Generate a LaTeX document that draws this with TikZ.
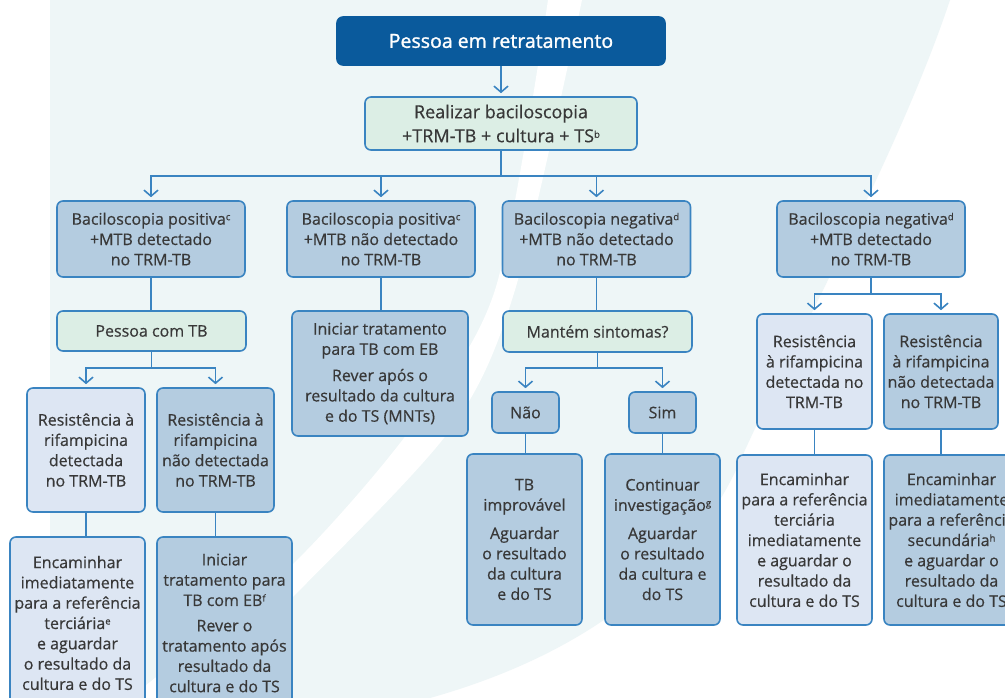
\documentclass[tikz,border=0pt]{standalone}
\usepackage{fontspec}
\setmainfont{Open Sans}
\newfontfamily\boxfont{Open Sans}[FakeBold=0.5]
\newfontfamily\topfont{Open Sans}[FakeBold=1.3]
\usetikzlibrary{arrows.meta}
\definecolor{lineblue}{HTML}{3A84C1}
\definecolor{darkblue}{HTML}{0A5A9C}
\definecolor{greenfill}{HTML}{DCEEE5}
\definecolor{lightfill}{HTML}{DDE6F3}
\definecolor{medfill}{HTML}{B4CCE0}
\definecolor{textgrey}{HTML}{383838}
\definecolor{bgtint}{HTML}{EEF6F7}
\newcommand{\sups}[1]{\raisebox{4.5pt}{\fontsize{9.5}{9.5}\selectfont #1}}
\tikzset{
  conn/.style={draw=lineblue, line width=1.6pt},
  arr/.style={conn, -{Straight Barb[length=6pt,width=14pt]}, shorten >=3pt},
  box/.style={draw=lineblue, line width=1.6pt, rounded corners=6pt, inner sep=0pt,
    align=center, text=textgrey, font=\boxfont\fontsize{16}{20.3}\selectfont},
  greenbox/.style={box, fill=greenfill},
  lightbox/.style={box, fill=lightfill},
  medbox/.style={box, fill=medfill},
  topbox/.style={box, draw=darkblue, fill=darkblue, text=white, font=\topfont\fontsize{19.5}{24}\selectfont},
}
\begin{document}
\begin{tikzpicture}[x=1pt,y=-1pt]
\useasboundingbox (0,0) rectangle (1005,698);
\clip (0,0) rectangle (1005,698);
% background
\fill[white] (0,0) rectangle (1005,698);
\fill[bgtint] (50,0) -- (950,0) .. controls (900,150) and (800,330) .. (745,450)
  .. controls (700,560) and (600,650) .. (430,698) -- (50,698) -- cycle;
\fill[white] plot[smooth] coordinates {(548,0) (495,290) (410,430) (292,565) (150,682) (125,698)}
  -- plot[smooth] coordinates {(190,698) (292,598) (450,430) (515,290) (582,0)} -- cycle;

% nodes
\node[topbox, minimum width=328pt, minimum height=48pt] (top) at (501,41) {Pessoa em retratamento};
\node[greenbox, minimum width=272pt, minimum height=53pt, font=\boxfont\fontsize{18}{24}\selectfont] (r2) at (501,123.5)
  {Realizar baciloscopia\\+TRM-TB + cultura + TS\sups{b}};

\node[medbox, minimum width=188pt, minimum height=76pt] (A) at (151,239)
  {Baciloscopia positiva\sups{c}\\+MTB detectado\\no TRM-TB};
\node[medbox, minimum width=188pt, minimum height=76pt] (B) at (381,239)
  {Baciloscopia positiva\sups{c}\\+MTB não detectado\\no TRM-TB};
\node[medbox, minimum width=188pt, minimum height=76pt] (C) at (596.5,239)
  {Baciloscopia negativa\sups{d}\\+MTB não detectado\\no TRM-TB};
\node[medbox, minimum width=188pt, minimum height=76pt] (D) at (871,239)
  {Baciloscopia negativa\sups{d}\\+MTB detectado\\no TRM-TB};

% column A
\node[greenbox, minimum width=189pt, minimum height=40pt] (ptb) at (151.5,331) {Pessoa com TB};
\node[lightbox, minimum width=118pt, minimum height=124pt] (rl1) at (86,450)
  {Resistência à\\rifampicina\\detectada\\no TRM-TB};
\node[medbox, minimum width=117pt, minimum height=124pt] (rl2) at (215.5,450)
  {Resistência à\\rifampicina\\não detectada\\no TRM-TB};
\node[lightbox, minimum width=135pt, minimum height=172pt] (el1) at (77.5,623)
  {Encaminhar\\imediatamente\\para a referência\\terciária\sups{e}\\e aguardar\\o resultado da\\cultura e do TS};
\node[medbox, minimum width=135pt, minimum height=172pt] (el2) at (224.5,623)
  {Iniciar\\tratamento para\\TB com EB\sups{f}\\[5pt]Rever o\\tratamento após\\resultado da\\cultura e do TS};

% column B
\node[medbox, minimum width=176pt, minimum height=125pt] (b2) at (380,373.5)
  {Iniciar tratamento\\para TB com EB\\[6pt]Rever após o\\resultado da cultura\\e do TS (MNTs)};

% column C
\node[greenbox, minimum width=189pt, minimum height=41pt] (ms) at (597.5,331.5) {Mantém sintomas?};
\node[medbox, minimum width=67pt, minimum height=41pt] (nao) at (525.5,412.5) {Não};
\node[medbox, minimum width=67pt, minimum height=41pt] (sim) at (662.5,412.5) {Sim};
\node[medbox, minimum width=115pt, minimum height=171pt] (tbi) at (524.5,539.5)
  {TB\\improvável\\[8pt]Aguardar\\o resultado\\da cultura\\e do TS};
\node[medbox, minimum width=115pt, minimum height=171pt] (cont) at (662.5,539.5)
  {Continuar\\investigação\sups{g}\\[8pt]Aguardar\\o resultado\\da cultura e\\do TS};

% column D
\node[lightbox, minimum width=115pt, minimum height=115pt] (rr1) at (814.5,371.5)
  {Resistência\\à rifampicina\\detectada no\\TRM-TB};
\node[medbox, minimum width=114pt, minimum height=115pt] (rr2) at (941,371.5)
  {Resistência\\à rifampicina\\não detectada\\no TRM-TB};
\node[lightbox, minimum width=135pt, minimum height=170pt] (er1) at (804.5,540)
  {Encaminhar\\para a referência\\terciária\\imediatamente\\e aguardar o\\resultado da\\cultura e do TS};
\node[medbox, minimum width=135pt, minimum height=170pt] (er2) at (951.5,540)
  {Encaminhar\\imediatamente\\para a referência\\secundária\sups{h}\\e aguardar o\\resultado da\\cultura e do TS};

% connectors
\draw[arr] (top.south) -- (r2.north);
\draw[arr] (r2.south) -- ++(0,25) -| (A.north);
\draw[arr] (r2.south) -- ++(0,25) -| (B.north);
\draw[arr] (r2.south) -- ++(0,25) -| (C.north);
\draw[arr] (r2.south) -- ++(0,25) -| (D.north);

\draw[conn] (A.south) -- (A.south |- ptb.north);
\draw[arr] (ptb.south) -- ++(0,16) -| (rl1.north);
\draw[arr] (ptb.south) -- ++(0,16) -| (rl2.north);
\draw[conn] (rl1.south) -- (rl1.south |- el1.north);
\draw[conn] (rl2.south) -- (rl2.south |- el2.north);

\draw[conn] (B.south) -- (B.south |- b2.north);

\draw[conn] (C.south) -- (C.south |- ms.north);
\draw[arr] (ms.south) -- ++(0,15) -| (nao.north);
\draw[arr] (ms.south) -- ++(0,15) -| (sim.north);
\draw[conn] (nao.south) -- (nao.south |- tbi.north);
\draw[conn] (sim.south) -- (sim.south |- cont.north);

\draw[arr] (D.south) -- ++(0,16) -| (rr1.north);
\draw[arr] (D.south) -- ++(0,16) -| (rr2.north);
\draw[conn] (rr1.south) -- (rr1.south |- er1.north);
\draw[conn] (rr2.south) -- (rr2.south |- er2.north);
\end{tikzpicture}
\end{document}
